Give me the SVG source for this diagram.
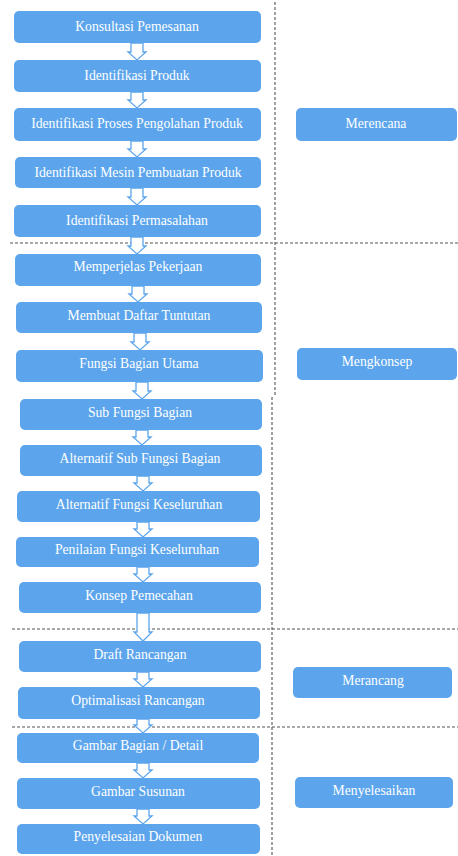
<svg xmlns="http://www.w3.org/2000/svg" width="458" height="856" viewBox="0 0 458 856">
<style>
.box{fill:#5ca5ec;}
.lbl{fill:#ffffff;font-family:"Liberation Serif","Times New Roman","DejaVu Serif",serif;font-size:13.7px;text-anchor:middle;}
.arr{fill:#ffffff;stroke:#5ca5ec;stroke-width:1.3;stroke-linejoin:miter;}
.dash{stroke:#555;stroke-width:1.1;stroke-dasharray:3,2;fill:none;}
</style>
<rect width="458" height="856" fill="#ffffff"/>
<g id="dividers">
<path class="dash" d="M275,2 V397"/>
<path class="dash" d="M272,397 V856"/>
<path class="dash" d="M10,243 H458"/>
<path class="dash" d="M12,629 H458"/>
<path class="dash" d="M12,727 H458"/>
</g>
<g id="connectors">
<path class="arr" d="M131,43 H143 V52 H146 L137,60 L128,52 H131 Z"/>
<path class="arr" d="M131,92 H143 V100 H146 L137,108 L128,100 H131 Z"/>
<path class="arr" d="M131,141 H143 V149 H146 L137,157 L128,149 H131 Z"/>
<path class="arr" d="M131,188 H143 V197 H146 L137,205 L128,197 H131 Z"/>
<path class="arr" d="M131,237 H143 V246 H146 L137,254 L128,246 H131 Z"/>
<path class="arr" d="M132,286 H144 V294 H147 L138,302 L129,294 H132 Z"/>
<path class="arr" d="M134,333 H146 V342 H149 L140,350 L131,342 H134 Z"/>
<path class="arr" d="M136,382 H148 V391 H151 L142,399 L133,391 H136 Z"/>
<path class="arr" d="M136,430 H148 V437 H151 L142,445 L133,437 H136 Z"/>
<path class="arr" d="M137,476 H149 V483 H152 L143,491 L134,483 H137 Z"/>
<path class="arr" d="M137,522 H149 V529 H152 L143,537 L134,529 H137 Z"/>
<path class="arr" d="M137,567 H149 V574 H152 L143,582 L134,574 H137 Z"/>
<path class="arr" d="M137,613 H149 V632 H152 L143,641 L134,632 H137 Z"/>
<path class="arr" d="M137,672 H149 V679 H152 L143,687 L134,679 H137 Z"/>
<path class="arr" d="M137,719 H149 V725 H152 L143,733 L134,725 H137 Z"/>
<path class="arr" d="M137,763 H149 V770 H152 L143,778 L134,770 H137 Z"/>
<path class="arr" d="M137,809 H149 V816 H152 L143,824 L134,816 H137 Z"/>
</g>
<g id="n1"><rect class="box" x="14" y="11" width="247" height="32" rx="5"/><text class="lbl" x="137" y="31">Konsultasi Pemesanan</text></g>
<g id="n2"><rect class="box" x="14" y="60" width="247" height="32" rx="5"/><text class="lbl" x="137" y="80">Identifikasi Produk</text></g>
<g id="n3"><rect class="box" x="14" y="108" width="247" height="33" rx="5"/><text class="lbl" x="137" y="128">Identifikasi Proses Pengolahan Produk</text></g>
<g id="n4"><rect class="box" x="15" y="157" width="246" height="31" rx="5"/><text class="lbl" x="138" y="177">Identifikasi Mesin Pembuatan Produk</text></g>
<g id="n5"><rect class="box" x="14" y="205" width="247" height="32" rx="5"/><text class="lbl" x="137" y="225">Identifikasi Permasalahan</text></g>
<g id="n6"><rect class="box" x="15" y="254" width="246" height="32" rx="5"/><text class="lbl" x="138" y="271">Memperjelas Pekerjaan</text></g>
<g id="n7"><rect class="box" x="16" y="302" width="246" height="31" rx="5"/><text class="lbl" x="139" y="320">Membuat Daftar Tuntutan</text></g>
<g id="n8"><rect class="box" x="16" y="350" width="247" height="32" rx="5"/><text class="lbl" x="139" y="368">Fungsi Bagian Utama</text></g>
<g id="n9"><rect class="box" x="20" y="399" width="242" height="31" rx="5"/><text class="lbl" x="140" y="417">Sub Fungsi Bagian</text></g>
<g id="n10"><rect class="box" x="20" y="445" width="242" height="31" rx="5"/><text class="lbl" x="140" y="463">Alternatif Sub Fungsi Bagian</text></g>
<g id="n11"><rect class="box" x="17" y="491" width="243" height="31" rx="5"/><text class="lbl" x="139" y="509">Alternatif Fungsi Keseluruhan</text></g>
<g id="n12"><rect class="box" x="16" y="537" width="243" height="30" rx="5"/><text class="lbl" x="137" y="554">Penilaian Fungsi Keseluruhan</text></g>
<g id="n13"><rect class="box" x="19" y="582" width="242" height="31" rx="5"/><text class="lbl" x="139" y="600">Konsep Pemecahan</text></g>
<g id="n14"><rect class="box" x="19" y="641" width="242" height="31" rx="5"/><text class="lbl" x="140" y="659">Draft Rancangan</text></g>
<g id="n15"><rect class="box" x="18" y="687" width="242" height="32" rx="5"/><text class="lbl" x="138" y="705">Optimalisasi Rancangan</text></g>
<g id="n16"><rect class="box" x="17" y="733" width="242" height="30" rx="5"/><text class="lbl" x="138" y="750">Gambar Bagian / Detail</text></g>
<g id="n17"><rect class="box" x="17" y="778" width="243" height="31" rx="5"/><text class="lbl" x="138" y="796">Gambar Susunan</text></g>
<g id="n18"><rect class="box" x="17" y="824" width="243" height="30" rx="5"/><text class="lbl" x="138" y="841">Penyelesaian Dokumen</text></g>
<g id="p1"><rect class="box" x="296" y="108" width="161" height="33" rx="5"/><text class="lbl" x="376" y="128">Merencana</text></g>
<g id="p2"><rect class="box" x="297" y="348" width="160" height="32" rx="5"/><text class="lbl" x="377" y="366">Mengkonsep</text></g>
<g id="p3"><rect class="box" x="293" y="667" width="159" height="31" rx="5"/><text class="lbl" x="373" y="685">Merancang</text></g>
<g id="p4"><rect class="box" x="295" y="777" width="158" height="31" rx="5"/><text class="lbl" x="374" y="795">Menyelesaikan</text></g>
</svg>
